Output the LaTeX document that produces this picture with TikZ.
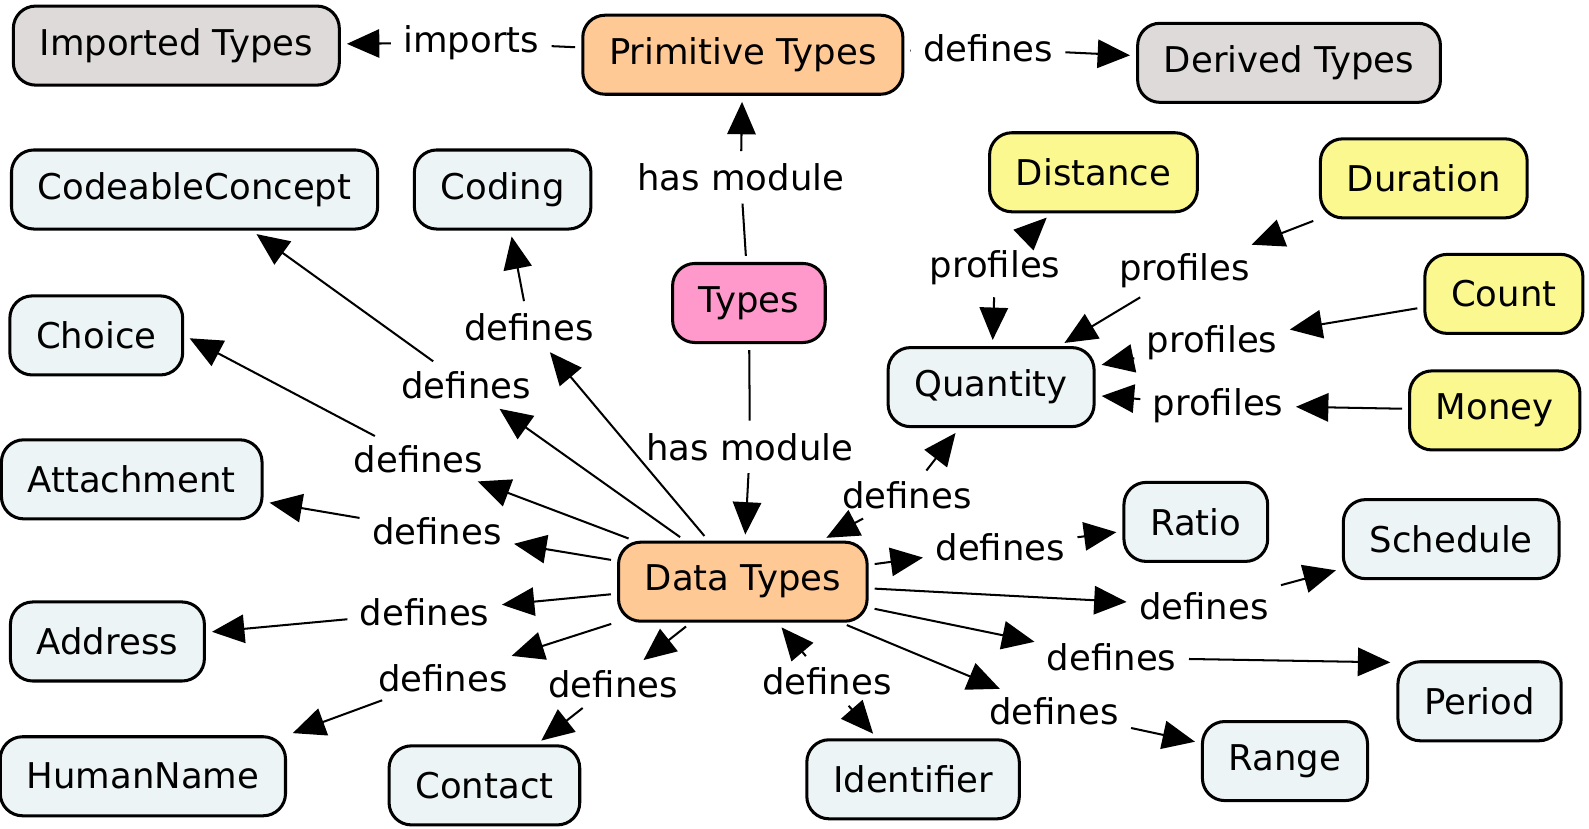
\documentclass[tikz,border=0pt]{standalone}
\usepackage{fontspec}
\setmainfont{DejaVu Sans}
\usetikzlibrary{arrows.meta}
\definecolor{conceptblue}{RGB}{237,244,246}
\definecolor{orangetype}{RGB}{255,201,150}
\definecolor{greytype}{RGB}{221,218,217}
\definecolor{typespink}{RGB}{255,153,204}
\definecolor{profileyellow}{RGB}{250,248,143}

\begin{document}
\begin{tikzpicture}[x=0.5pt,y=-0.5pt,>={Triangle[length=16pt,width=14pt]},
  concept/.style={draw,line width=1.5pt,rounded corners=11pt,fill=conceptblue,
    minimum height=39pt,inner xsep=13pt,font=\fontsize{17.5}{21}\selectfont},
  phrase/.style={inner sep=3pt,font=\fontsize{17.5}{21}\selectfont},
  link/.style={line width=1pt,shorten <=3pt,shorten >=3pt}]
\useasboundingbox (0,0) rectangle (1568,818);
\node[concept,fill=greytype] (imported) at (174,45) {Imported Types};
\node[concept,fill=orangetype] (primitive) at (733,54) {Primitive Types};
\node[concept,fill=greytype] (derived) at (1272,62) {Derived Types};
\node[concept] (codeable) at (192,187) {CodeableConcept};
\node[concept] (coding) at (496,187) {Coding};
\node[concept,fill=profileyellow] (distance) at (1079,170) {Distance};
\node[concept,fill=profileyellow] (duration) at (1405,176) {Duration};
\node[concept,fill=typespink] (types) at (739,299) {Types};
\node[concept] (choice) at (95,331) {Choice};
\node[concept] (quantity) at (978,382) {Quantity};
\node[concept,fill=profileyellow] (count) at (1484,290) {Count};
\node[concept,fill=profileyellow] (money) at (1475,405) {Money};
\node[concept] (attachment) at (130,473) {Attachment};
\node[concept] (ratio) at (1180,515) {Ratio};
\node[concept] (schedule) at (1432,532) {Schedule};
\node[concept,fill=orangetype] (datatypes) at (733,574) {Data Types};
\node[concept] (address) at (106,633) {Address};
\node[concept] (period) at (1460,692) {Period};
\node[concept] (range) at (1268,751) {Range};
\node[concept] (humanname) at (141,766) {HumanName};
\node[concept] (contact) at (478,775) {Contact};
\node[concept] (identifier) at (901,769) {Identifier};

\node[phrase] (imports) at (465,42) {imports};
\node[phrase] (defprim) at (975,48) {defines};
\node[phrase] (hasprim) at (731,175) {has module};
\node[phrase] (hasdata) at (740,441) {has module};
\node[phrase] (dcoding) at (522,323) {defines};
\node[phrase] (dcodeable) at (460,380) {defines};
\node[phrase] (dchoice) at (413,453) {defines};
\node[phrase] (dattach) at (431,524) {defines};
\node[phrase] (daddress) at (419,604) {defines};
\node[phrase] (dhuman) at (437,669) {defines};
\node[phrase] (dcontact) at (605,675) {defines};
\node[phrase] (dident) at (816,672) {defines};
\node[phrase] (dquantity) at (895,489) {defines};
\node[phrase] (dratio) at (987,540) {defines};
\node[phrase] (dschedule) at (1188,598) {defines};
\node[phrase] (dperiod) at (1097,649) {defines};
\node[phrase] (drange) at (1040,702) {defines};
\node[phrase] (pdistance) at (982,264) {profiles};
\node[phrase] (pduration) at (1169,267) {profiles};
\node[phrase] (pcount) at (1196,338) {profiles};
\node[phrase] (pmoney) at (1202,400) {profiles};

\foreach \a/\b/\c in {primitive/imports/imported,primitive/defprim/derived,
  types/hasprim/primitive,types/hasdata/datatypes} {
  \draw[link] (\a) -- (\b);
  \draw[link,->] (\b) -- (\c);
}
\foreach \b/\c in {dcoding/coding,dcodeable/codeable,dchoice/choice.east,dattach/attachment,
  daddress/address,dhuman/humanname.north east,dcontact/contact,dratio/ratio,
  dschedule/schedule,dperiod/period.155,drange/range} {
  \draw[link,->] (datatypes) -- (\b);
  \draw[link,->] (\b) -- (\c);
}
\foreach \b/\c in {dident/identifier,dquantity/quantity} {
  \draw[link,->] (\b) -- (datatypes);
  \draw[link,->] (\b) -- (\c);
}
\foreach \a/\b in {duration/pduration,count/pcount,money/pmoney} {
  \draw[link,->] (\a) -- (\b);
  \draw[link,->] (\b) -- (quantity);
}
\draw[link,->] (pdistance) -- (distance);
\draw[link,->] (pdistance) -- (quantity);
\end{tikzpicture}
\end{document}
